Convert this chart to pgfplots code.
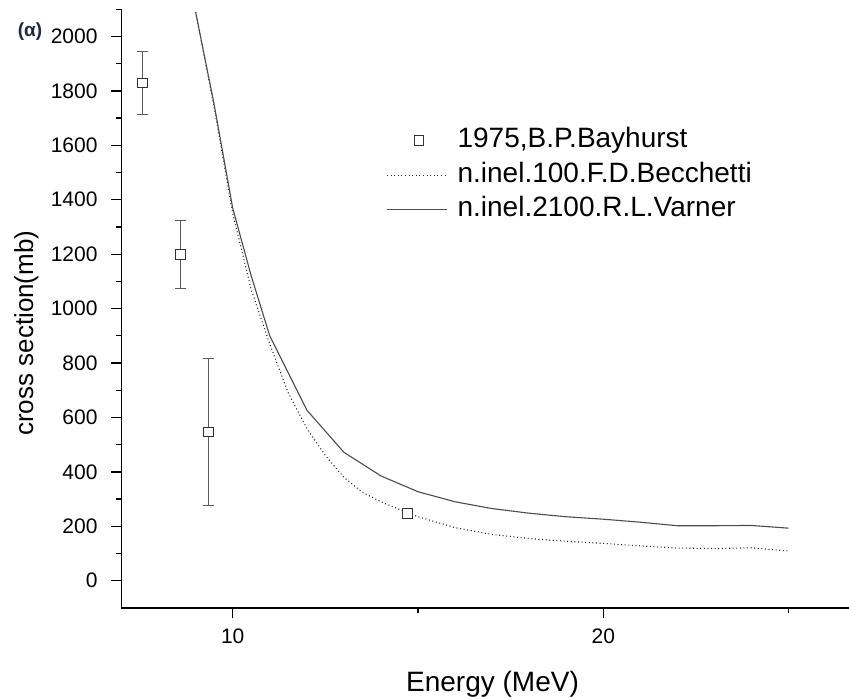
\documentclass[border=0pt]{standalone}
\usepackage{pgfplots}
\pgfplotsset{compat=1.18}
\usepackage{fontspec}
\setmainfont{Liberation Sans}
\definecolor{alphacol}{RGB}{30,40,70}
\pgfplotsset{
  linelegend/.style={legend image code/.code={\draw[##1] (0bp,0bp) -- (60bp,0bp);}},
  markleg/.style={legend image code/.code={\draw[##1, mark repeat=2, mark phase=2] plot coordinates {(0bp,0bp) (32bp,0bp) (64bp,0bp)};}},
}
\pgfplotstableread{
x y e
7.56 1830 115
8.59 1200 125
9.35 547 270
14.71 248 0
}\bayhurst
\pgfplotstableread{
x y
9.0 2090
9.5 1740
10 1350
10.5 1070
11 870
11.5 690
12 560
12.5 460
13 380
13.5 325
14 290
14.5 262
15 235
16 195
17 170
18 155
19 145
20 137
21 128
22 120
23 118
24 121
25 109
}\becchetti
\pgfplotstableread{
x y
9.0 2090
9.5 1750
10 1370
10.5 1120
11 900
12 627
13 472
14 385
15 327
16 290
17 265
18 248
19 235
20 226
21 215
22 202
23 202
24 203
25 193
}\varner
\begin{document}
\begin{tikzpicture}
\begin{axis}[
  name=ax, at={(0,0)}, anchor=south west,
  scale only axis, width=727.5bp, height=598.6bp,
  xmin=7, xmax=26.63, ymin=-100, ymax=2100,
  axis lines*=left,
  axis line style={line width=1.8bp, -},
  xtick={10,20}, minor xtick={15,25},
  ytick={0,200,...,2000}, minor ytick={100,300,...,2100},
  tick align=outside,
  major tick length=10.5bp, minor tick length=5.5bp,
  every tick/.style={line width=1.3bp, black},
  /pgf/number format/assume math mode=true,
  /pgf/number format/1000 sep={},
  tick label style={font=\fontsize{21bp}{25bp}\selectfont},
  yticklabel style={xshift=-10bp},
  xticklabel style={yshift=-7bp},
  xlabel={Energy (MeV)},
  ylabel={cross section(mb)},
  x label style={font=\fontsize{28bp}{33bp}\selectfont, at={(axis description cs:0.510,-0.1403)}, anchor=base},
  y label style={font=\fontsize{26bp}{31bp}\selectfont, at={(axis description cs:-0.1216,0.459)}, anchor=base, rotate=0},
  legend style={at={(axis description cs:0.364,0.806)}, anchor=north west, draw=none, fill=none,
    font=\fontsize{28bp}{32bp}\selectfont, inner sep=0pt, row sep=4.5bp, column sep=4bp,
    nodes={inner xsep=6bp, inner ysep=2bp, text height=20bp, text depth=6bp}},
  legend cell align=left,
  clip=false,
]
\addplot[draw=none, mark=none, forget plot,
  error bars/.cd, y dir=both, y explicit,
  error bar style={draw=gray!70!black, line width=0.9bp},
  error mark options={draw=gray!70!black, line width=0.9bp, mark size=5.3bp, rotate=90}]
  table[x=x, y=y, y error=e]{\bayhurst};
\addplot[only marks, mark=square*, mark size=4.8bp,
  mark options={fill=white, draw=black!80, line width=0.8bp}, markleg]
  table[x=x, y=y]{\bayhurst};
\addlegendentry{1975,B.P.Bayhurst}
\addplot[black!85, line width=1.1bp, dash pattern=on 1bp off 2.6bp, linelegend]
  table[x=x, y=y]{\becchetti};
\addlegendentry{n.inel.100.F.D.Becchetti}
\addplot[black!70, line width=1.1bp, linelegend]
  table[x=x, y=y]{\varner};
\addlegendentry{n.inel.2100.R.L.Varner}
\end{axis}
\node[font=\bfseries\fontsize{19bp}{22bp}\selectfont, text=alphacol] at ([xshift=-91.5bp, yshift=-22.5bp]ax.north west) {(α)};
\pgfresetboundingbox
\path ([xshift=-121.5bp,yshift=-92.1bp]ax.south west) rectangle ([yshift=9.3bp]ax.north east);
\end{tikzpicture}
\end{document}
